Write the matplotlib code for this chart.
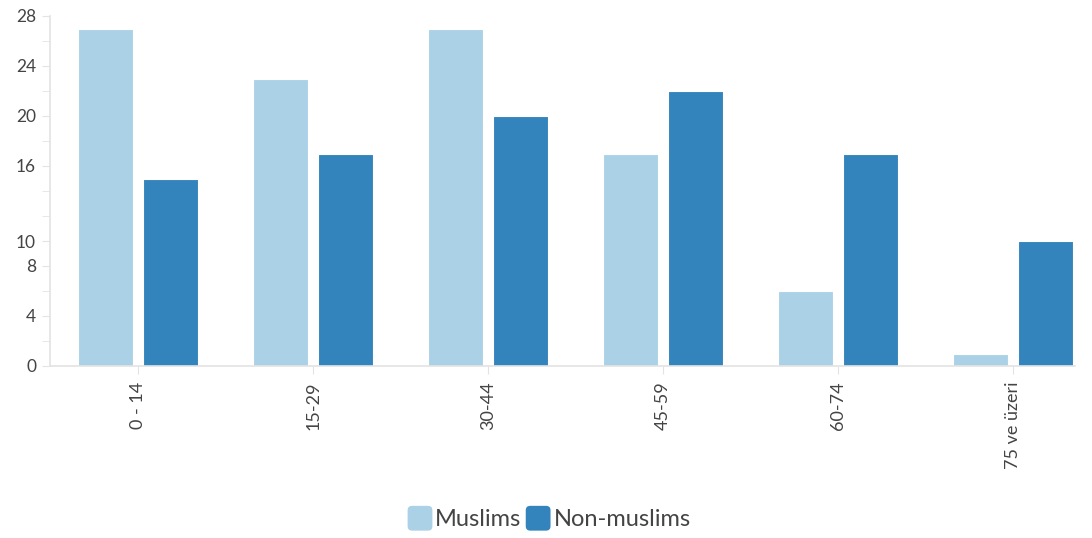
import matplotlib
matplotlib.use("Agg")
import matplotlib.pyplot as plt
import numpy as np
from matplotlib.patches import FancyBboxPatch, Patch
from matplotlib.legend_handler import HandlerPatch

categories = ["0 - 14", "15-29", "30-44", "45-59", "60-74", "75 ve üzeri"]
muslims = [27, 23, 27, 17, 6, 1]
non_muslims = [15, 17, 20, 22, 17, 10]
series_names = ["Muslims", "Non-muslims"]
major_ticks = [0, 4, 8, 10, 16, 20, 24, 28]
minor_ticks = [2, 6, 12, 14, 18, 22, 26]

c_light = "#abd1e6"
c_dark = "#3384bc"
text_c = "#444444"
axis_c = "#e3e3e3"

plt.rcParams['font.family'] = ['Lato', 'DejaVu Sans']

fig = plt.figure(figsize=(10.92, 5.38), dpi=100)
ax = fig.add_axes([50/1092, 172/538, 1025/1092, 350/538])

x = np.arange(len(categories))
w = 0.314
off = 0.186
ax.bar(x - off, muslims, width=w, color=c_light, edgecolor="white", linewidth=0.8)
ax.bar(x + off, non_muslims, width=w, color=c_dark, edgecolor="white", linewidth=0.8)

ax.set_xlim(-0.503, 5.354)
ax.set_ylim(0, 28)
ax.set_yticks(major_ticks)
ax.set_yticks(minor_ticks, minor=True)
ax.set_xticks(x)
ax.set_xticklabels(categories, rotation=90, fontsize=13, color=text_c)
ax.tick_params(axis='y', which='major', length=6, color=axis_c, labelsize=12.5, labelcolor=text_c, pad=4)
ax.tick_params(axis='y', which='minor', length=6, color=axis_c)
ax.tick_params(axis='x', length=6, color=axis_c, pad=5)

for s in ["top", "right"]:
    ax.spines[s].set_visible(False)
ax.spines["left"].set_color(axis_c)
ax.spines["bottom"].set_color(axis_c)
ax.spines["left"].set_linewidth(1.2)
ax.spines["bottom"].set_linewidth(1.2)

class RoundHandler(HandlerPatch):
    def create_artists(self, legend, orig_handle, xdescent, ydescent, width, height, fontsize, trans):
        s = height * 1.5
        p = FancyBboxPatch((-xdescent + (width - s) / 2, -ydescent + (height - s) / 2), s, s,
                           boxstyle="round,pad=0,rounding_size=%f" % (s * 0.18),
                           facecolor=orig_handle.get_facecolor(), edgecolor="none", transform=trans)
        return [p]

handles = [Patch(facecolor=c_light), Patch(facecolor=c_dark)]
leg = fig.legend(handles, series_names, loc="center", bbox_to_anchor=(550/1092, 1 - 520/538), ncol=2,
                 frameon=False, fontsize=17, handler_map={Patch: RoundHandler()},
                 handlelength=0.9, handletextpad=0.2, columnspacing=0.25, labelcolor=text_c)

fig.savefig("out.png", dpi=100)
